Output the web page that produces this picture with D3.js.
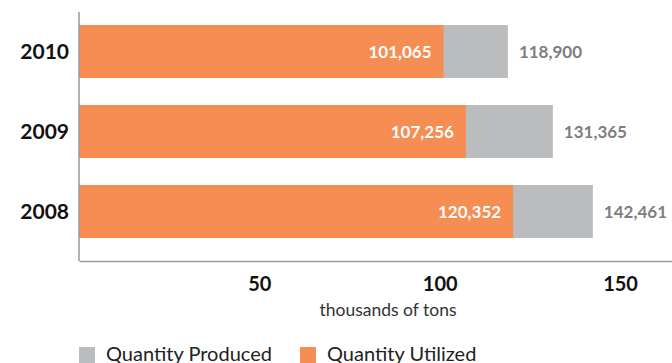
<!DOCTYPE html>
<html>
<head>
<meta charset="utf-8">
<script src="https://cdn.jsdelivr.net/npm/d3@7"></script>
<style>
  body { margin: 0; background: #fff; }
  svg { display: block; font-family: Lato, "Open Sans", sans-serif; }
</style>
</head>
<body>
<div id="chart"></div>
<script>
const years = ["2010", "2009", "2008"];
const produced = [118900, 131365, 142461];
const utilized = [101065, 107256, 120352];
const tickValues = [50, 100, 150];
const seriesNames = ["Quantity Produced", "Quantity Utilized"];
const seriesColors = ["#bbbcbe", "#f68d52"];

const width = 672, height = 363;
const margin = {left: 79, right: 0, top: 25, bottom: 102};

const x = d3.scaleLinear()
    .domain([0, 164.4])
    .range([margin.left, width - margin.right]);

const y = d3.scaleBand()
    .domain(years)
    .range([margin.top, 238])
    .paddingInner(0.3375)
    .paddingOuter(0);

const svg = d3.select("#chart").append("svg")
    .attr("width", width)
    .attr("height", height);

const rows = years.map((yr, i) => ({year: yr, produced: produced[i], utilized: utilized[i]}));

// produced bars (gray) behind
svg.selectAll("rect.prod")
    .data(rows)
  .enter().append("rect")
    .attr("class", "prod")
    .attr("x", x(0))
    .attr("y", d => y(d.year))
    .attr("width", d => x(d.produced / 1000) - x(0))
    .attr("height", y.bandwidth())
    .attr("fill", seriesColors[0]);

svg.selectAll("rect.util")
    .data(rows)
  .enter().append("rect")
    .attr("class", "util")
    .attr("x", x(0))
    .attr("y", d => y(d.year))
    .attr("width", d => x(d.utilized / 1000) - x(0))
    .attr("height", y.bandwidth())
    .attr("fill", seriesColors[1]);

const fmt = d3.format(",");

// value labels
svg.selectAll("text.util")
    .data(rows)
  .enter().append("text")
    .attr("class", "util")
    .text(d => fmt(d.utilized))
    .attr("x", d => x(d.utilized / 1000) - 12)
    .attr("y", d => y(d.year) + y.bandwidth() / 2 + 6)
    .attr("text-anchor", "end")
    .attr("fill", "#fff")
    .attr("font-size", 17)
    .attr("font-weight", 700);

svg.selectAll("text.prod")
    .data(rows)
  .enter().append("text")
    .attr("class", "prod")
    .text(d => fmt(d.produced))
    .attr("x", d => x(d.produced / 1000) + 11)
    .attr("y", d => y(d.year) + y.bandwidth() / 2 + 6)
    .attr("fill", "#7d7e80")
    .attr("font-size", 17)
    .attr("font-weight", 700);

// year labels
svg.selectAll("text.year")
    .data(years)
  .enter().append("text")
    .attr("class", "year")
    .text(d => d)
    .attr("x", 69)
    .attr("y", d => y(d) + y.bandwidth() / 2 + 7)
    .attr("text-anchor", "end")
    .attr("fill", "#111")
    .attr("font-size", 21)
    .attr("font-weight", 700);

// axes
svg.append("line")
    .attr("x1", x(0)).attr("x2", x(0))
    .attr("y1", 12).attr("y2", 261)
    .attr("stroke", "#9a9a9c").attr("stroke-width", 1.5);

const xAxis = svg.append("g")
    .attr("transform", "translate(0,261)")
    .call(d3.axisBottom(x).tickValues(tickValues).tickSize(0).tickPadding(16));
xAxis.select(".domain").attr("stroke", "#9a9a9c").attr("stroke-width", 1.5);
xAxis.selectAll("text")
    .attr("font-family", "Lato, sans-serif")
    .attr("font-size", 20)
    .attr("font-weight", 700)
    .attr("fill", "#111");

svg.append("text")
    .text("thousands of tons")
    .attr("x", 388)
    .attr("y", 316)
    .attr("text-anchor", "middle")
    .attr("fill", "#333")
    .attr("font-size", 17.5);

// legend
const legendX = [79, 300];
const legend = svg.selectAll("g.legend")
    .data(seriesNames)
  .enter().append("g")
    .attr("class", "legend")
    .attr("transform", (d, i) => "translate(" + legendX[i] + ",347)");
legend.append("rect")
    .attr("width", 16).attr("height", 17)
    .attr("fill", (d, i) => seriesColors[i]);
legend.append("text")
    .text(d => d)
    .attr("x", 27)
    .attr("y", 14)
    .attr("fill", "#222")
    .attr("font-size", 20);
</script>
</body>
</html>
